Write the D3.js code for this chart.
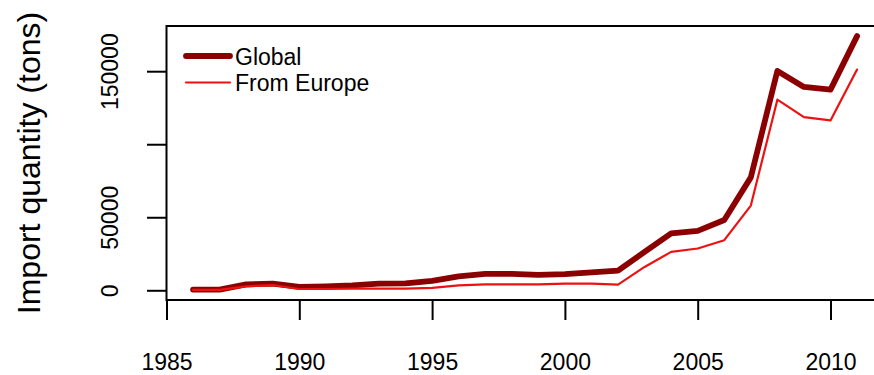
<!DOCTYPE html>
<html>
<head>
<meta charset="utf-8">
<script src="https://cdn.jsdelivr.net/npm/d3@7"></script>
<style>
  html, body { margin: 0; padding: 0; background: #fff; }
  svg { display: block; font-family: "Liberation Sans", Arial, sans-serif; }
</style>
</head>
<body>
<svg id="chart" width="874" height="375"></svg>
<script>
// Annual import quantities (tons)
const years = [1986, 1987, 1988, 1989, 1990, 1991, 1992, 1993, 1994, 1995, 1996, 1997, 1998,
               1999, 2000, 2001, 2002, 2003, 2004, 2005, 2006, 2007, 2008, 2009, 2010, 2011];
const globalImports = [500, 500, 4100, 4600, 2300, 2700, 3400, 4600, 4800, 6500, 9600, 11300, 11200,
                       10500, 11100, 12300, 13400, 26300, 38900, 40700, 48100, 77300, 150200, 139200, 137400, 174000];
const europeImports = [300, 300, 2700, 3600, 900, 900, 1100, 1100, 1200, 1700, 3400, 4100, 4100,
                       4100, 4600, 4600, 3900, 16000, 26300, 28600, 34300, 58000, 130500, 118600, 116300, 151100];

const xTicks = [1985, 1990, 1995, 2000, 2005, 2010];
const yTicks = [0, 50000, 100000, 150000];
const yTickLabels = ["0", "50000", "", "150000"];

const seriesNames = ["Global", "From Europe"];
const seriesColors = ["#8b0000", "#ee1111"];
const seriesWidths = [5.8, 2.2];

const svg = d3.select("#chart");
const plot = { left: 166.5, top: 26, bottom: 300, pxPerYear: 26.56 };

// R-style 4% padding around the data range
const xMin = d3.min(years), xMax = d3.max(years);
const xPad = (xMax - xMin) * 0.04;
const x = d3.scaleLinear()
  .domain([xMin - xPad, xMax + xPad])
  .range([plot.left, plot.left + (xMax - xMin + 2 * xPad) * plot.pxPerYear]);

const allVals = globalImports.concat(europeImports);
const yLo = d3.min(allVals), yHi = d3.max(allVals);
const yPad = (yHi - yLo) * 0.04;
const y = d3.scaleLinear()
  .domain([yLo - yPad, yHi + yPad])
  .range([plot.bottom, plot.top]);

// Series lines (Global underneath, Europe on top)
const line = d3.line().x((d, i) => x(years[i])).y(d => y(d));
[globalImports, europeImports].forEach((vals, k) => {
  svg.append("path")
    .datum(vals)
    .attr("d", line)
    .attr("fill", "none")
    .attr("stroke", seriesColors[k])
    .attr("stroke-width", seriesWidths[k])
    .attr("stroke-linejoin", "round")
    .attr("stroke-linecap", "round");
});

// Plot frame
const [x0, x1] = x.range();
svg.append("rect")
  .attr("x", x0).attr("y", plot.top)
  .attr("width", x1 - x0).attr("height", plot.bottom - plot.top)
  .attr("fill", "none").attr("stroke", "#000").attr("stroke-width", 2);

// X axis
const xAxis = svg.append("g")
  .attr("transform", `translate(0,${plot.bottom})`)
  .call(d3.axisBottom(x).tickValues(xTicks).tickFormat(d3.format("d")).tickSize(20).tickPadding(50));
xAxis.select(".domain").remove();
xAxis.selectAll(".tick line").attr("stroke", "#000").attr("stroke-width", 2);
xAxis.selectAll(".tick text")
  .attr("fill", "#000").attr("font-size", 23).attr("dy", null)
  .attr("font-family", "Liberation Sans, Arial, sans-serif");

// Y axis (labels rotated, parallel to the axis)
const yAxis = svg.append("g")
  .attr("transform", `translate(${plot.left},0)`)
  .call(d3.axisLeft(y).tickValues(yTicks).tickFormat((d, i) => yTickLabels[i]).tickSize(19.5));
yAxis.select(".domain").remove();
yAxis.selectAll(".tick line").attr("stroke", "#000").attr("stroke-width", 2);
yAxis.selectAll(".tick text")
  .attr("fill", "#000").attr("font-size", 23)
  .attr("font-family", "Liberation Sans, Arial, sans-serif")
  .attr("x", null).attr("dy", null)
  .attr("text-anchor", "middle")
  .attr("transform", `translate(${118 - plot.left},0) rotate(-90)`);

// Y axis title
svg.append("text")
  .attr("transform", `translate(40,${(plot.top + plot.bottom) / 2}) rotate(-90)`)
  .attr("text-anchor", "middle")
  .attr("font-size", 32)
  .attr("fill", "#000")
  .text("Import quantity (tons)");

// Legend
const legend = svg.append("g");
seriesNames.forEach((name, k) => {
  const ly = 56 + k * 26.5;
  legend.append("line")
    .attr("x1", 186).attr("x2", 230).attr("y1", ly).attr("y2", ly)
    .attr("stroke", seriesColors[k]).attr("stroke-width", seriesWidths[k])
    .attr("stroke-linecap", "round");
  legend.append("text")
    .attr("x", 235).attr("y", ly + 8.5)
    .attr("font-size", 23).attr("fill", "#000")
    .text(name);
});
</script>
</body>
</html>
